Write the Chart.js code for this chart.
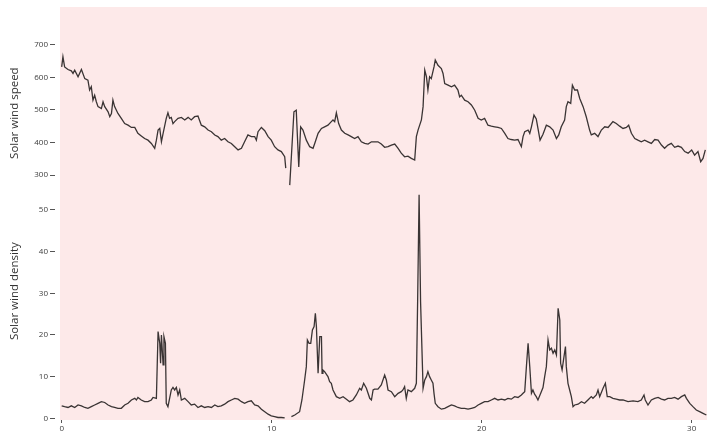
<!DOCTYPE html>
<html lang="en">
<head>
    <meta charset="UTF-8">
    <title>Solar wind speed and density</title>
    <script src="https://cdn.jsdelivr.net/npm/chart.js@4.4.0/dist/chart.umd.min.js"></script>
    <style>
        body {
            margin: 0;
            background-color: #fff;
        }
        canvas {
            display: block;
        }
    </style>
</head>
<body>
    <canvas id="windChart" width="707" height="434"></canvas>

    <script>
        // Solar wind speed (day, km/s)
        const speedDays = [
            0, 0.06, 0.14, 0.30, 0.46, 0.54, 0.62, 0.78, 0.94, 1.10, 1.25, 1.33, 1.41, 1.49, 1.57, 1.65, 1.73, 1.89, 1.97, 2.05,
            2.21, 2.29, 2.37, 2.44, 2.52, 2.68, 2.84, 3.00, 3.16, 3.32, 3.48, 3.63, 3.79, 3.95, 4.11, 4.27, 4.43, 4.51, 4.59, 4.67,
            4.75, 4.83, 4.98, 5.06, 5.14, 5.22, 5.30, 5.38, 5.54, 5.70, 5.86, 6.02, 6.17, 6.33, 6.49, 6.65, 6.81, 6.97, 7.13, 7.29,
            7.44, 7.60, 7.76, 7.92, 8.08, 8.24, 8.40, 8.56, 8.71, 8.87, 9.03, 9.19, 9.27, 9.35, 9.51, 9.67, 9.83, 9.98, 10.14, 10.30,
            10.46, 10.62, 10.67, 10.75, 10.86, 11.06, 11.17, 11.29, 11.38, 11.49, 11.65, 11.81, 11.97, 12.05, 12.21, 12.37, 12.52, 12.68, 12.84, 12.92,
            13.00, 13.08, 13.19, 13.32, 13.48, 13.64, 13.79, 13.95, 14.11, 14.27, 14.43, 14.59, 14.75, 14.90, 15.06, 15.22, 15.38, 15.54, 15.70, 15.86,
            16.02, 16.17, 16.33, 16.49, 16.65, 16.81, 16.89, 16.97, 17.13, 17.21, 17.29, 17.37, 17.44, 17.52, 17.60, 17.73, 17.79, 17.92, 18.08, 18.16,
            18.24, 18.40, 18.56, 18.71, 18.87, 18.95, 19.03, 19.19, 19.35, 19.51, 19.67, 19.83, 19.98, 20.14, 20.30, 20.46, 20.62, 20.78, 20.94, 21.10,
            21.25, 21.41, 21.57, 21.73, 21.89, 21.97, 22.05, 22.21, 22.29, 22.37, 22.49, 22.60, 22.68, 22.78, 22.92, 23.08, 23.24, 23.40, 23.56, 23.67,
            23.79, 23.95, 24.03, 24.11, 24.24, 24.32, 24.43, 24.56, 24.67, 24.83, 24.98, 25.14, 25.22, 25.38, 25.54, 25.70, 25.86, 26.02, 26.25, 26.41,
            26.57, 26.73, 26.89, 27.00, 27.13, 27.29, 27.44, 27.60, 27.76, 27.92, 28.08, 28.24, 28.40, 28.56, 28.71, 28.87, 29.03, 29.19, 29.35, 29.51,
            29.67, 29.83, 30.00, 30.14, 30.30, 30.43, 30.54, 30.65
        ];
        const speedValues = [
            632, 663, 632, 624, 620, 612, 622, 602, 624, 596, 591, 561, 571, 530, 545, 525, 510, 504, 525, 510,
            494, 479, 489, 530, 510, 489, 474, 458, 453, 446, 446, 428, 420, 412, 407, 397, 382, 407, 438, 443,
            402, 428, 474, 491, 474, 477, 458, 464, 474, 477, 469, 477, 469, 479, 481, 453, 448, 438, 433, 423,
            418, 407, 412, 402, 397, 387, 377, 382, 402, 423, 418, 418, 407, 433, 446, 436, 418, 407, 387, 377,
            372, 356, 321, null, 269, 494, 499, 325, 448, 438, 407, 387, 382, 397, 428, 443, 448, 453, 464, 469,
            464, 491, 458, 438, 428, 423, 418, 412, 418, 402, 397, 395, 402, 402, 402, 395, 385, 387, 392, 395,
            382, 367, 356, 358, 351, 346, 418, 438, 469, 510, 622, 602, 561, 602, 596, 632, 653, 637, 627, 612,
            581, 576, 571, 576, 561, 540, 545, 530, 525, 515, 499, 474, 469, 474, 453, 450, 448, 446, 443, 428,
            412, 409, 407, 409, 387, 418, 433, 438, 428, 448, 484, 472, 443, 407, 425, 453, 448, 438, 412, 423,
            448, 469, 510, 525, 520, 576, 561, 561, 535, 510, 479, 438, 423, 428, 418, 438, 448, 446, 464, 458,
            450, 443, 446, 453, 428, 412, 407, 402, 407, 402, 397, 409, 407, 392, 382, 392, 397, 385, 389, 385,
            372, 367, 377, 361, 372, 341, 351, 377
        ];

        // Solar wind density (day, particles/cm3)
        const densityDays = [
            0, 0.14, 0.30, 0.46, 0.62, 0.78, 0.94, 1.10, 1.25, 1.41, 1.57, 1.73, 1.89, 2.05, 2.21, 2.37, 2.52, 2.68, 2.84, 3.00,
            3.16, 3.32, 3.48, 3.56, 3.63, 3.79, 3.95, 4.11, 4.27, 4.35, 4.51, 4.59, 4.67, 4.71, 4.75, 4.83, 4.87, 4.94, 4.98, 5.06,
            5.14, 5.22, 5.30, 5.38, 5.46, 5.54, 5.62, 5.70, 5.86, 6.02, 6.17, 6.33, 6.49, 6.65, 6.81, 6.97, 7.13, 7.29, 7.44, 7.60,
            7.76, 7.92, 8.08, 8.24, 8.40, 8.56, 8.71, 8.87, 9.03, 9.19, 9.35, 9.51, 9.67, 9.83, 9.98, 10.14, 10.30, 10.46, 10.62, 10.75,
            10.94, 11.10, 11.33, 11.44, 11.57, 11.65, 11.70, 11.78, 11.86, 11.94, 12.02, 12.08, 12.13, 12.17, 12.21, 12.29, 12.37, 12.40, 12.44, 12.52,
            12.68, 12.76, 12.84, 12.92, 13.08, 13.24, 13.40, 13.56, 13.71, 13.87, 14.03, 14.19, 14.27, 14.38, 14.51, 14.67, 14.75, 14.83, 14.90, 15.06,
            15.22, 15.38, 15.46, 15.54, 15.70, 15.86, 16.02, 16.17, 16.25, 16.33, 16.41, 16.49, 16.65, 16.81, 16.89, 16.95, 17.02, 17.09, 17.21,
            17.29, 17.37, 17.44, 17.52, 17.60, 17.68, 17.73, 17.79, 17.92, 18.08, 18.24, 18.40, 18.56, 18.71, 18.87, 19.03, 19.19, 19.35, 19.51, 19.67,
            19.83, 19.98, 20.14, 20.30, 20.46, 20.62, 20.78, 20.94, 21.10, 21.25, 21.41, 21.57, 21.73, 21.89, 21.97, 22.05, 22.13, 22.21, 22.29, 22.37,
            22.44, 22.52, 22.60, 22.68, 22.84, 22.92, 23.00, 23.08, 23.16, 23.24, 23.32, 23.40, 23.48, 23.56, 23.64, 23.72, 23.76, 23.83, 23.92, 23.99,
            24.03, 24.11, 24.19, 24.27, 24.35, 24.43, 24.59, 24.75, 24.90, 25.06, 25.22, 25.30, 25.46, 25.54, 25.62, 25.78, 25.89, 25.98, 26.10, 26.25,
            26.41, 26.57, 26.73, 26.97, 27.21, 27.44, 27.60, 27.73, 27.79, 27.92, 28.08, 28.24, 28.40, 28.56, 28.71, 28.87, 29.03, 29.19, 29.35, 29.51,
            29.67, 29.75, 29.91, 30.06, 30.22, 30.38, 30.54, 30.70
        ];
        const densityValues = [
            3.0, 2.8, 2.6, 3.0, 2.6, 3.2, 3.0, 2.6, 2.4, 2.8, 3.2, 3.6, 4.0, 3.8, 3.2, 2.8, 2.6, 2.4, 2.4, 3.2,
            3.6, 4.4, 4.8, 4.4, 5.0, 4.4, 4.0, 4.0, 4.4, 5.0, 4.8, 20.8, 18.0, 13.2, 20.0, 12.8, 19.6, 18.0, 3.6, 2.8,
            4.8, 6.8, 7.4, 6.8, 7.4, 5.6, 6.8, 4.4, 4.8, 4.0, 3.2, 3.4, 2.6, 3.0, 2.6, 2.8, 2.6, 3.2, 2.8, 3.0,
            3.4, 4.0, 4.4, 4.8, 4.6, 4.0, 3.6, 4.0, 4.2, 3.2, 3.0, 2.2, 1.6, 1.0, 0.6, 0.4, 0.2, 0.2, 0.1, null,
            0.4, 0.8, 1.6, 4.4, 9.2, 12.4, 18.8, 18.0, 18.0, 21.2, 22.0, 25.2, 22.0, 16.4, 10.8, 19.6, 19.6, 10.8, 11.6, 11.2,
            10.0, 8.8, 8.4, 6.8, 5.2, 4.8, 5.2, 4.6, 4.0, 4.4, 5.6, 7.2, 6.8, 8.4, 7.2, 4.8, 4.4, 6.8, 7.0, 7.0,
            8.0, 10.4, 9.2, 6.8, 6.4, 5.2, 6.0, 6.4, 6.8, 7.6, 4.8, 6.8, 6.4, 7.2, 8.4, 28.0, 53.6, 28.0, 7.2,
            9.2, 10.0, 11.2, 10.0, 9.2, 8.4, 6.0, 3.6, 2.8, 2.2, 2.4, 2.8, 3.2, 3.0, 2.6, 2.4, 2.4, 2.2, 2.4, 2.6,
            3.2, 3.6, 4.0, 4.0, 4.4, 4.8, 4.4, 4.6, 4.4, 4.8, 4.6, 5.2, 5.0, 5.6, 6.0, 6.4, 12.4, 18.0, 12.4, 6.0,
            6.8, 5.8, 5.2, 4.4, 6.4, 7.4, 10.0, 12.4, 18.8, 16.4, 16.8, 15.6, 16.4, 15.2, 26.4, 23.6, 13.2, 11.6, 14.8, 17.2,
            12.4, 8.4, 6.8, 5.2, 2.8, 3.2, 3.4, 4.0, 3.6, 4.4, 5.2, 4.8, 5.6, 6.8, 5.2, 7.2, 8.4, 5.2, 5.2, 4.8,
            4.6, 4.4, 4.4, 4.0, 4.2, 4.0, 4.4, 5.6, 4.4, 3.2, 4.4, 4.8, 5.0, 4.6, 4.4, 4.8, 4.8, 5.0, 4.6, 5.2,
            5.6, 4.8, 3.6, 2.8, 2.0, 1.6, 1.2, 0.8
        ];

        // Tick labels
        const dayTicks = [0, 10, 20, 30];
        const speedTicks = [300, 400, 500, 600, 700];
        const densityTicks = [0, 10, 20, 30, 40, 50];

        const speedTitle = 'Solar wind speed';
        const densityTitle = 'Solar wind density';

        const toPoints = (xs, ys) => xs.map((x, i) => ({ x: x, y: ys[i] }));

        const tickFont = { family: '"Open Sans", "DejaVu Sans", sans-serif', size: 8 };
        const tickColor = '#3c3c3c';

        // Pink plot background plus the rotated panel titles
        const panelDecor = {
            id: 'panelDecor',
            beforeDraw(chart) {
                const { ctx, chartArea } = chart;
                ctx.save();
                ctx.fillStyle = '#fde9e9';
                ctx.fillRect(chartArea.left, chartArea.top, chartArea.right - chartArea.left, chartArea.bottom - chartArea.top);
                ctx.restore();
            },
            afterDraw(chart) {
                const { ctx, scales } = chart;
                const titles = [
                    [speedTitle, scales.ySpeed.getPixelForValue(490)],
                    [densityTitle, scales.yDensity.getPixelForValue(30.5)]
                ];
                ctx.save();
                ctx.fillStyle = '#333';
                ctx.font = '11.5px "Open Sans", "DejaVu Sans", sans-serif';
                ctx.textAlign = 'center';
                ctx.textBaseline = 'middle';
                titles.forEach(([text, y]) => {
                    ctx.save();
                    ctx.translate(15, y);
                    ctx.rotate(-Math.PI / 2);
                    ctx.fillText(text, 0, 0);
                    ctx.restore();
                });
                ctx.restore();
            }
        };

        const yAxis = (ticks, min, max, weight, order) => ({
            type: 'linear',
            position: 'left',
            stack: 'panels',
            stackWeight: weight,
            weight: order,
            min: min,
            max: max,
            afterBuildTicks: (scale) => { scale.ticks = ticks.map(v => ({ value: v })); },
            afterFit: (scale) => { scale.width = 60; },
            border: { display: false },
            grid: {
                drawOnChartArea: false,
                tickLength: 10,
                tickBorderDash: [5, 5],
                tickColor: '#555'
            },
            ticks: { font: tickFont, color: tickColor, padding: 2 }
        });

        const lineStyle = {
            borderColor: '#3a3434',
            borderWidth: 1.3,
            pointRadius: 0,
            tension: 0,
            spanGaps: false
        };

        new Chart(document.getElementById('windChart'), {
            type: 'line',
            data: {
                datasets: [
                    { label: speedTitle, data: toPoints(speedDays, speedValues), yAxisID: 'ySpeed', ...lineStyle },
                    { label: densityTitle, data: toPoints(densityDays, densityValues), yAxisID: 'yDensity', ...lineStyle }
                ]
            },
            options: {
                responsive: false,
                animation: false,
                layout: { padding: { top: 7, left: 0, right: 0, bottom: 0 } },
                plugins: {
                    legend: { display: false },
                    tooltip: { enabled: false }
                },
                scales: {
                    x: {
                        type: 'linear',
                        min: -0.08,
                        max: 30.73,
                        afterBuildTicks: (scale) => { scale.ticks = dayTicks.map(v => ({ value: v })); },
                        afterFit: (scale) => { scale.height = 14; },
                        border: { display: false },
                        grid: { drawOnChartArea: false, tickLength: 3, tickColor: '#555' },
                        ticks: { font: tickFont, color: tickColor, padding: 1, maxRotation: 0 }
                    },
                    ySpeed: yAxis(speedTicks, 257, 816, 182, 2),
                    yDensity: yAxis(densityTicks, -0.4, 55, 231, 1)
                }
            },
            plugins: [panelDecor]
        });
    </script>
</body>
</html>
